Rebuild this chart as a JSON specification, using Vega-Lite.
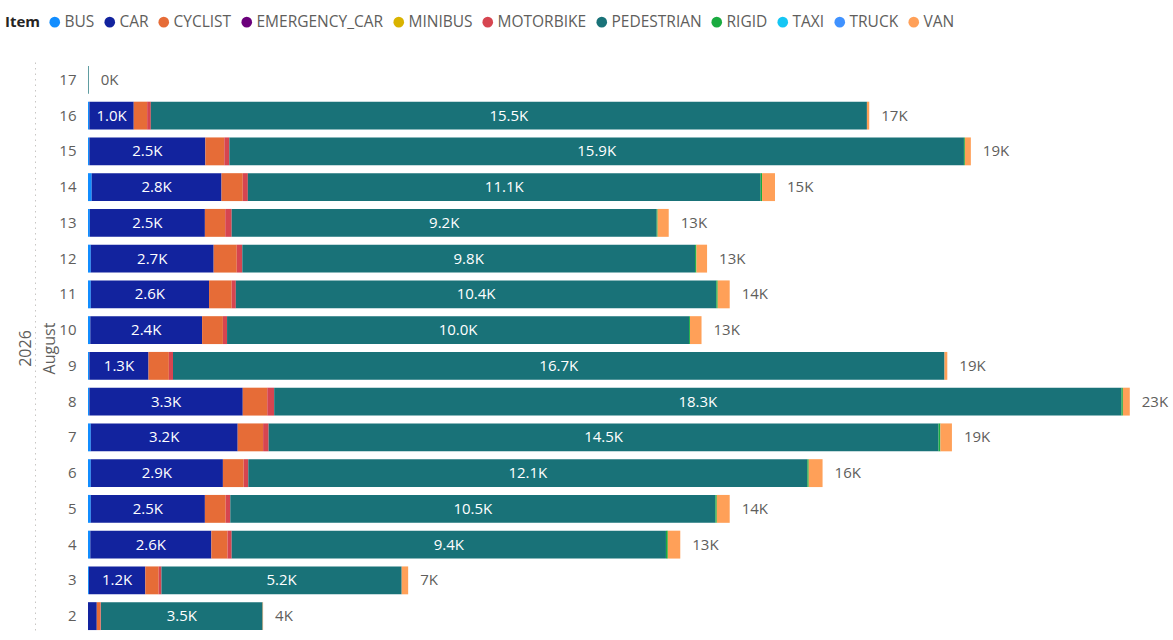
{
  "$schema": "https://vega.github.io/schema/vega-lite/v6.json",
  "width": 1080,
  "height": 572,
  "autosize": {"type": "none"},
  "padding": {"left": 88, "top": 62, "right": 5, "bottom": 6},
  "config": {
    "font": "Open Sans",
    "view": {"stroke": null},
    "legend": {
      "labelFont": "Open Sans",
      "titleFont": "Open Sans"
    }
  },
  "data": {
    "values": [
      {"day": 17, "Item": "PEDESTRIAN", "value": 15},
      {"day": 16, "Item": "BUS", "value": 30},
      {"day": 16, "Item": "CAR", "value": 960},
      {"day": 16, "Item": "CYCLIST", "value": 290},
      {"day": 16, "Item": "MOTORBIKE", "value": 80},
      {"day": 16, "Item": "PEDESTRIAN", "value": 15500},
      {"day": 16, "Item": "VAN", "value": 50},
      {"day": 15, "Item": "BUS", "value": 30},
      {"day": 15, "Item": "CAR", "value": 2510},
      {"day": 15, "Item": "CYCLIST", "value": 410},
      {"day": 15, "Item": "MOTORBIKE", "value": 110},
      {"day": 15, "Item": "PEDESTRIAN", "value": 15900},
      {"day": 15, "Item": "RIGID", "value": 20},
      {"day": 15, "Item": "VAN", "value": 130},
      {"day": 14, "Item": "BUS", "value": 80},
      {"day": 14, "Item": "CAR", "value": 2810},
      {"day": 14, "Item": "CYCLIST", "value": 460},
      {"day": 14, "Item": "MOTORBIKE", "value": 110},
      {"day": 14, "Item": "PEDESTRIAN", "value": 11100},
      {"day": 14, "Item": "RIGID", "value": 30},
      {"day": 14, "Item": "VAN", "value": 280},
      {"day": 13, "Item": "BUS", "value": 40},
      {"day": 13, "Item": "CAR", "value": 2490},
      {"day": 13, "Item": "CYCLIST", "value": 440},
      {"day": 13, "Item": "MOTORBIKE", "value": 140},
      {"day": 13, "Item": "PEDESTRIAN", "value": 9200},
      {"day": 13, "Item": "RIGID", "value": 20},
      {"day": 13, "Item": "VAN", "value": 240},
      {"day": 12, "Item": "BUS", "value": 60},
      {"day": 12, "Item": "CAR", "value": 2660},
      {"day": 12, "Item": "CYCLIST", "value": 500},
      {"day": 12, "Item": "MOTORBIKE", "value": 120},
      {"day": 12, "Item": "PEDESTRIAN", "value": 9800},
      {"day": 12, "Item": "RIGID", "value": 30},
      {"day": 12, "Item": "VAN", "value": 230},
      {"day": 11, "Item": "BUS", "value": 60},
      {"day": 11, "Item": "CAR", "value": 2560},
      {"day": 11, "Item": "CYCLIST", "value": 490},
      {"day": 11, "Item": "MOTORBIKE", "value": 90},
      {"day": 11, "Item": "PEDESTRIAN", "value": 10400},
      {"day": 11, "Item": "RIGID", "value": 30},
      {"day": 11, "Item": "VAN", "value": 260},
      {"day": 10, "Item": "BUS", "value": 50},
      {"day": 10, "Item": "CAR", "value": 2420},
      {"day": 10, "Item": "CYCLIST", "value": 450},
      {"day": 10, "Item": "MOTORBIKE", "value": 90},
      {"day": 10, "Item": "PEDESTRIAN", "value": 10000},
      {"day": 10, "Item": "RIGID", "value": 20},
      {"day": 10, "Item": "VAN", "value": 250},
      {"day": 9, "Item": "BUS", "value": 30},
      {"day": 9, "Item": "CAR", "value": 1280},
      {"day": 9, "Item": "CYCLIST", "value": 440},
      {"day": 9, "Item": "MOTORBIKE", "value": 90},
      {"day": 9, "Item": "PEDESTRIAN", "value": 16700},
      {"day": 9, "Item": "VAN", "value": 60},
      {"day": 8, "Item": "BUS", "value": 30},
      {"day": 8, "Item": "CAR", "value": 3320},
      {"day": 8, "Item": "CYCLIST", "value": 530},
      {"day": 8, "Item": "MOTORBIKE", "value": 150},
      {"day": 8, "Item": "PEDESTRIAN", "value": 18340},
      {"day": 8, "Item": "RIGID", "value": 30},
      {"day": 8, "Item": "VAN", "value": 150},
      {"day": 7, "Item": "BUS", "value": 60},
      {"day": 7, "Item": "CAR", "value": 3180},
      {"day": 7, "Item": "CYCLIST", "value": 550},
      {"day": 7, "Item": "MOTORBIKE", "value": 120},
      {"day": 7, "Item": "PEDESTRIAN", "value": 14500},
      {"day": 7, "Item": "RIGID", "value": 40},
      {"day": 7, "Item": "VAN", "value": 250},
      {"day": 6, "Item": "BUS", "value": 60},
      {"day": 6, "Item": "CAR", "value": 2860},
      {"day": 6, "Item": "CYCLIST", "value": 450},
      {"day": 6, "Item": "MOTORBIKE", "value": 100},
      {"day": 6, "Item": "PEDESTRIAN", "value": 12100},
      {"day": 6, "Item": "RIGID", "value": 30},
      {"day": 6, "Item": "VAN", "value": 300},
      {"day": 5, "Item": "BUS", "value": 60},
      {"day": 5, "Item": "CAR", "value": 2470},
      {"day": 5, "Item": "CYCLIST", "value": 450},
      {"day": 5, "Item": "MOTORBIKE", "value": 100},
      {"day": 5, "Item": "PEDESTRIAN", "value": 10500},
      {"day": 5, "Item": "RIGID", "value": 30},
      {"day": 5, "Item": "VAN", "value": 280},
      {"day": 4, "Item": "BUS", "value": 50},
      {"day": 4, "Item": "CAR", "value": 2620},
      {"day": 4, "Item": "CYCLIST", "value": 350},
      {"day": 4, "Item": "MOTORBIKE", "value": 90},
      {"day": 4, "Item": "PEDESTRIAN", "value": 9400},
      {"day": 4, "Item": "RIGID", "value": 40},
      {"day": 4, "Item": "VAN", "value": 270},
      {"day": 3, "Item": "BUS", "value": 20},
      {"day": 3, "Item": "CAR", "value": 1220},
      {"day": 3, "Item": "CYCLIST", "value": 290},
      {"day": 3, "Item": "MOTORBIKE", "value": 60},
      {"day": 3, "Item": "PEDESTRIAN", "value": 5200},
      {"day": 3, "Item": "VAN", "value": 140},
      {"day": 2, "Item": "CAR", "value": 190},
      {"day": 2, "Item": "CYCLIST", "value": 80},
      {"day": 2, "Item": "MOTORBIKE", "value": 10},
      {"day": 2, "Item": "PEDESTRIAN", "value": 3500},
      {"day": 2, "Item": "VAN", "value": 10}
    ]
  },
  "encoding": {
    "y": {
      "field": "day",
      "type": "ordinal",
      "sort": "descending",
      "scale": {"paddingInner": 0.22, "paddingOuter": 0.11},
      "axis": {
        "title": ["2026", "August"],
        "ticks": false,
        "domain": true,
        "domainDash": [1.5, 4],
        "domainColor": "#C8C6C4",
        "offset": 53,
        "labelPadding": -41,
        "labelFontSize": 15,
        "labelColor": "#605E5C",
        "titleX": -5,
        "titleY": 286,
        "titleAngle": -90,
        "titleAlign": "center",
        "titleBaseline": "alphabetic",
        "titleLineHeight": 24,
        "titleFontWeight": "normal",
        "titleFontSize": 16,
        "titleColor": "#605E5C"
      }
    }
  },
  "layer": [
    {
      "mark": {"type": "bar"},
      "encoding": {
        "x": {
          "field": "value",
          "type": "quantitative",
          "stack": "zero",
          "scale": {"domain": [0, 23377], "nice": false},
          "axis": null
        },
        "color": {
          "field": "Item",
          "type": "nominal",
          "scale": {
            "domain": ["BUS", "CAR", "CYCLIST", "EMERGENCY_CAR", "MINIBUS", "MOTORBIKE", "PEDESTRIAN", "RIGID", "TAXI", "TRUCK", "VAN"],
            "range": ["#118DFF", "#12239E", "#E66C37", "#6B007B", "#D9B300", "#D64550", "#197278", "#1AAB40", "#15C6F4", "#4092FF", "#FFA058"]
          },
          "legend": {
            "title": "Item",
            "orient": "none",
            "legendX": -83,
            "legendY": -48,
            "direction": "horizontal",
            "titleOrient": "left",
            "titleFontSize": 15,
            "titleFontWeight": "bold",
            "titleColor": "#252423",
            "titlePadding": 6,
            "labelFontSize": 15.5,
            "labelColor": "#605E5C",
            "labelOffset": 2,
            "columnPadding": 7,
            "symbolType": "circle",
            "symbolSize": 113,
            "symbolStrokeWidth": 0
          }
        },
        "order": {"field": "Item", "sort": "ascending"}
      }
    },
    {
      "transform": [
        {"stack": "value", "groupby": ["day"], "sort": [{"field": "Item", "order": "ascending"}], "as": ["v0", "v1"]},
        {"filter": "(datum.Item === 'CAR' || datum.Item === 'PEDESTRIAN') && datum.value >= 500"},
        {"calculate": "(datum.v0 + datum.v1) / 2", "as": "mid"},
        {"calculate": "format(datum.value / 1000, '.1f') + 'K'", "as": "lbl"}
      ],
      "mark": {"type": "text", "color": "white", "fontSize": 15},
      "encoding": {
        "x": {"field": "mid", "type": "quantitative", "scale": {"domain": [0, 23377], "nice": false}, "axis": null},
        "text": {"field": "lbl", "type": "nominal"}
      }
    },
    {
      "transform": [
        {"aggregate": [{"op": "sum", "field": "value", "as": "total"}], "groupby": ["day"]},
        {"calculate": "format(datum.total / 1000, '.0f') + 'K'", "as": "tl"}
      ],
      "mark": {"type": "text", "align": "left", "dx": 12, "color": "#605E5C", "fontSize": 15},
      "encoding": {
        "x": {"field": "total", "type": "quantitative", "scale": {"domain": [0, 23377], "nice": false}, "axis": null},
        "text": {"field": "tl", "type": "nominal"}
      }
    }
  ]
}
